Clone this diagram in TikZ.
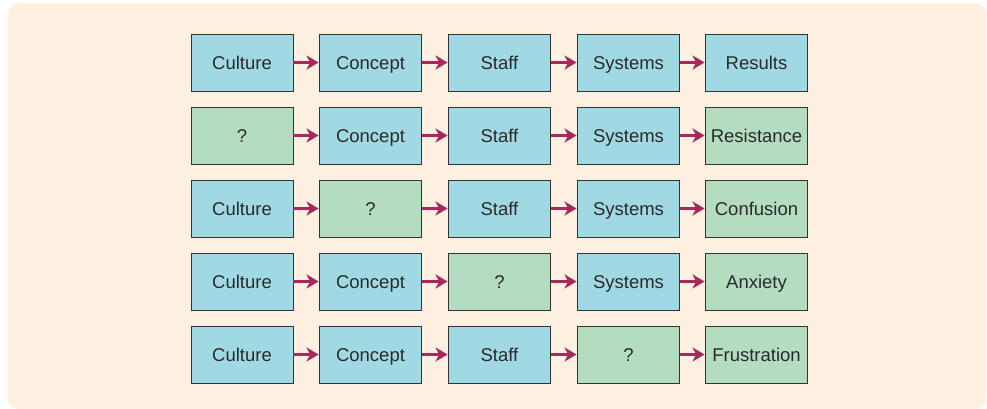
\documentclass[tikz,border=0pt]{standalone}
\usepackage{fontspec}
\setmainfont{Liberation Sans}
\usetikzlibrary{arrows.meta}
\definecolor{bgc}{HTML}{FDF0E1}
\definecolor{bluec}{HTML}{A0D9E3}
\definecolor{greenc}{HTML}{B3DCC0}
\definecolor{arrc}{HTML}{A8285E}
\definecolor{txtc}{HTML}{2A2A2A}
\definecolor{edgec}{HTML}{333333}
\tikzset{
  x=1pt,y=-1pt,
  box/.style={draw=edgec,line width=0.9pt,minimum width=102pt,minimum height=57pt,inner sep=0pt,text height=16pt,text depth=2.8pt,font=\fontsize{18.5}{20}\selectfont,text=txtc},
  bbox/.style={box,fill=bluec},
  gbox/.style={box,fill=greenc},
  conn/.style={draw=arrc,line width=2.2pt,-{Stealth[length=12pt,width=14pt,inset=3.5pt]},shorten >=0.5pt}
}
\begin{document}
\begin{tikzpicture}
\useasboundingbox (0,0) rectangle (987,409);
\fill[bgc,rounded corners=11pt] (8,3) rectangle (986,409);
\foreach \r/\a/\b/\c/\d/\e/\ta/\tb/\tc/\td/\te in {
  1/bbox/bbox/bbox/bbox/bbox/Culture/Concept/Staff/Systems/Results,
  2/gbox/bbox/bbox/bbox/gbox/?/Concept/Staff/Systems/Resistance,
  3/bbox/gbox/bbox/bbox/gbox/Culture/?/Staff/Systems/Confusion,
  4/bbox/bbox/gbox/bbox/gbox/Culture/Concept/?/Systems/Anxiety,
  5/bbox/bbox/bbox/gbox/gbox/Culture/Concept/Staff/?/Frustration}{
  \pgfmathsetmacro{\yy}{62.5+73*(\r-1)}
  \node[\a] (n\r a) at (242,\yy) {\ta};
  \node[\b] (n\r b) at (370.5,\yy) {\tb};
  \node[\c] (n\r c) at (499.5,\yy) {\tc};
  \node[\d] (n\r d) at (628.5,\yy) {\td};
  \node[\e] (n\r e) at (756.5,\yy) {\te};
  \draw[conn] (n\r a) -- (n\r b);
  \draw[conn] (n\r b) -- (n\r c);
  \draw[conn] (n\r c) -- (n\r d);
  \draw[conn] (n\r d) -- (n\r e);
}
\end{tikzpicture}
\end{document}
